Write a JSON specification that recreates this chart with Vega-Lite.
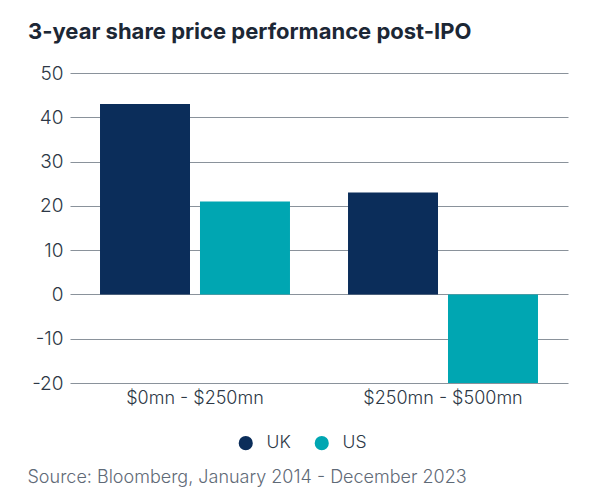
{
  "$schema": "https://vega.github.io/schema/vega-lite/v6.json",
  "width": 498,
  "height": 310,
  "autosize": {"type": "none"},
  "padding": {"left": 70, "top": 73, "right": 24, "bottom": 109},
  "background": "white",
  "title": {
    "text": "3-year share price performance post-IPO",
    "anchor": "start",
    "frame": "group",
    "dx": -42,
    "offset": 20,
    "font": "Inter",
    "fontSize": 22,
    "fontWeight": "bold",
    "color": "#1c2735"
  },
  "data": {
    "values": [
      {"band": "$0mn - $250mn", "market": "UK", "value": 43},
      {"band": "$0mn - $250mn", "market": "US", "value": 21},
      {"band": "$250mn - $500mn", "market": "UK", "value": 23},
      {"band": "$250mn - $500mn", "market": "US", "value": -20}
    ]
  },
  "mark": {"type": "bar"},
  "encoding": {
    "x": {
      "field": "band",
      "type": "nominal",
      "sort": null,
      "scale": {"paddingInner": 0.234, "paddingOuter": 0.121},
      "axis": {
        "title": "Source: Bloomberg, January 2014  - December 2023",
        "titleFont": "Inter",
        "titleFontSize": 18,
        "titleFontWeight": 300,
        "titleColor": "#5f6a77",
        "titleAnchor": "start",
        "titleAlign": "left",
        "titleX": -43,
        "titleY": 99,
        "titleBaseline": "alphabetic",
        "labelAngle": 0,
        "labelFont": "Inter",
        "labelFontSize": 18,
        "labelFontWeight": 300,
        "labelColor": "#2d3846",
        "labelPadding": 6,
        "ticks": false,
        "domain": false,
        "grid": false
      }
    },
    "xOffset": {
      "field": "market",
      "type": "nominal",
      "scale": {"paddingInner": 0.1}
    },
    "y": {
      "field": "value",
      "type": "quantitative",
      "scale": {"domain": [-20, 50], "nice": false},
      "axis": {
        "title": null,
        "values": [-20, -10, 0, 10, 20, 30, 40, 50],
        "labelExpr": "'' + datum.value",
        "labelFont": "Inter",
        "labelFontSize": 19,
        "labelFontWeight": 300,
        "labelColor": "#2d3846",
        "labelPadding": 7,
        "ticks": false,
        "domain": false,
        "grid": true,
        "gridColor": "#8a929b",
        "gridWidth": 1
      }
    },
    "color": {
      "field": "market",
      "type": "nominal",
      "scale": {"domain": ["UK", "US"], "range": ["#0b2d5a", "#00a6b2"]},
      "legend": {
        "title": null,
        "orient": "none",
        "legendX": 167,
        "legendY": 361,
        "direction": "horizontal",
        "symbolType": "circle",
        "symbolSize": 200,
        "labelFont": "Inter",
        "labelFontSize": 17.5,
        "labelFontWeight": 300,
        "labelColor": "#2d3846",
        "columnPadding": 22,
        "labelOffset": 12
      }
    }
  },
  "config": {"view": {"stroke": null}}
}
